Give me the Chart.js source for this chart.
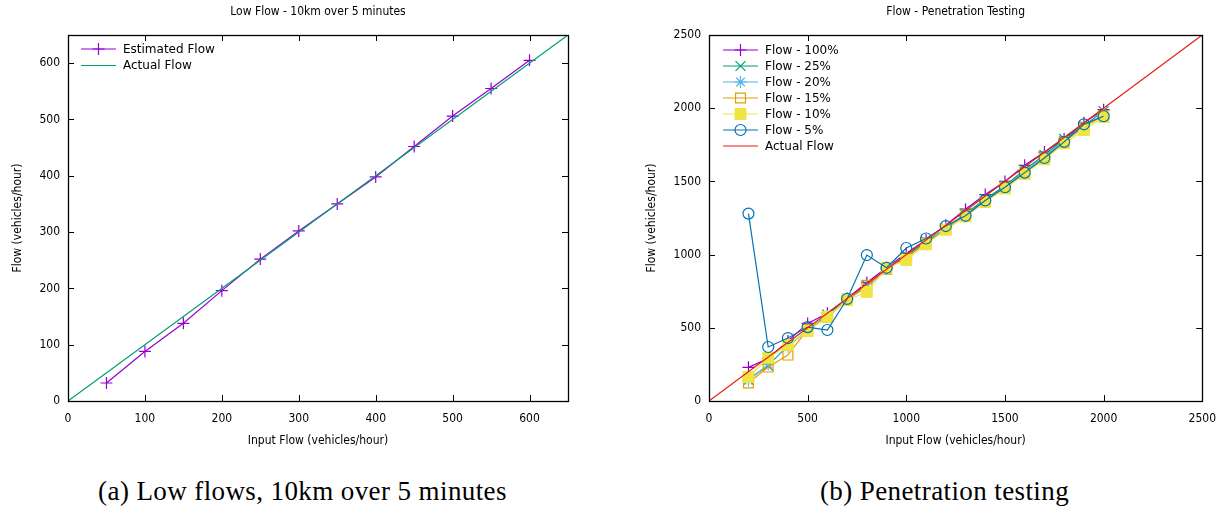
<!DOCTYPE html>
<html>
<head>
<meta charset="utf-8">
<script src="https://cdn.jsdelivr.net/npm/chart.js@4.4.0/dist/chart.umd.min.js"></script>
<style>
  body { margin: 0; background: #fff; width: 1222px; height: 512px; overflow: hidden; position: relative; }
  .box { position: absolute; top: 0; width: 611px; height: 460px; }
  .cap { position: absolute; top: 476px; width: 611px; text-align: center; letter-spacing: 0.4px;
         font-family: "Liberation Serif", "DejaVu Serif", serif; font-size: 27px; color: #000; }
</style>
</head>
<body>
<div class="box" style="left:0"><canvas id="lowFlow"></canvas></div>
<div class="box" style="left:611px;width:616px"><canvas id="penetration"></canvas></div>
<div class="cap" style="left:-3px">(a) Low flows, 10km over 5 minutes</div>
<div class="cap" style="left:639px">(b) Penetration testing</div>
<script>
// Chart (a): low flows
const lowInput = [50, 100, 150, 200, 250, 300, 350, 400, 450, 500, 550, 600];
const lowEstimated = [32, 88, 138, 196, 252, 302, 350, 398, 452, 506, 555, 605];
const lowActualInput = [0, 650];
const lowActual = [0, 650];

// Chart (b): penetration testing
const penInput = [200, 300, 400, 500, 600, 700, 800, 900, 1000, 1100, 1200, 1300, 1400, 1500, 1600, 1700, 1800, 1900, 2000];
const flow100 = [230, 290, 410, 530, 600, 700, 810, 910, 1010, 1100, 1200, 1310, 1410, 1500, 1610, 1700, 1790, 1900, 1990];
const flow25 = [150, 240, 380, 480, 590, 700, 790, 900, 990, 1090, 1180, 1280, 1380, 1470, 1580, 1680, 1790, 1880, 1980];
const flow20 = [140, 250, 370, 490, 580, 690, 780, 900, 980, 1080, 1180, 1270, 1370, 1460, 1570, 1670, 1780, 1870, 1960];
const flow15 = [123, 232, 314, 490, 570, 690, 790, 900, 980, 1080, 1170, 1270, 1360, 1460, 1560, 1660, 1770, 1870, 1950];
const flow10 = [164, 294, 383, 478, 574, 690, 745, 910, 963, 1070, 1170, 1260, 1360, 1450, 1550, 1650, 1760, 1850, 1940];
const flow5 = [1280, 369, 430, 505, 485, 697, 997, 910, 1045, 1110, 1195, 1265, 1370, 1460, 1560, 1660, 1770, 1890, 1945];
const penActualInput = [0, 2500];
const penActual = [0, 2500];

const tickFont = { family: "'DejaVu Sans Condensed', 'DejaVu Sans', sans-serif", size: 12 };
const keyFont = "12px 'DejaVu Sans', sans-serif";

function pts(xs, ys) {
  return xs.map((v, i) => ({ x: v, y: ys[i] }));
}

// gnuplot style frame with inward ticks on all four sides
const frame = {
  id: "frame",
  afterDatasetsDraw(chart) {
    const { ctx, chartArea: a, scales: { x, y } } = chart;
    ctx.save();
    ctx.strokeStyle = "#000";
    ctx.lineWidth = 1;
    ctx.beginPath();
    x.ticks.forEach((t) => {
      const px = Math.round(x.getPixelForValue(t.value)) + 0.5;
      ctx.moveTo(px, a.bottom); ctx.lineTo(px, a.bottom - 6);
      ctx.moveTo(px, a.top); ctx.lineTo(px, a.top + 6);
    });
    y.ticks.forEach((t) => {
      const py = Math.round(y.getPixelForValue(t.value)) + 0.5;
      ctx.moveTo(a.left, py); ctx.lineTo(a.left + 6, py);
      ctx.moveTo(a.right, py); ctx.lineTo(a.right - 6, py);
    });
    ctx.stroke();
    ctx.lineWidth = 1.3;
    ctx.strokeRect(Math.round(a.left) + 0.5, Math.round(a.top) + 0.5,
      Math.round(a.right - a.left), Math.round(a.bottom - a.top));
    ctx.restore();
  },
};

// key drawn inside the plot, top left
const keyBox = {
  id: "keyBox",
  afterDraw(chart, args, opts) {
    const { ctx, chartArea: a } = chart;
    ctx.save();
    ctx.font = keyFont;
    ctx.textBaseline = "middle";
    chart.data.datasets.forEach((ds, i) => {
      const y = a.top + opts.top + i * opts.row;
      const x0 = a.left + opts.left;
      ctx.strokeStyle = ds.borderColor;
      ctx.lineWidth = ds.borderWidth;
      ctx.beginPath();
      ctx.moveTo(x0, y); ctx.lineTo(x0 + 35, y);
      ctx.stroke();
      if (ds.pointRadius > 0) {
        ctx.fillStyle = ds.pointBackgroundColor;
        ctx.strokeStyle = ds.pointBorderColor;
        Chart.helpers.drawPoint(ctx, {
          pointStyle: ds.pointStyle, radius: ds.pointRadius,
          borderWidth: ds.pointBorderWidth, rotation: 0,
        }, x0 + 17.5, y);
      }
      ctx.fillStyle = "#000";
      ctx.fillText(ds.label, x0 + 42, y + 0.5);
    });
    ctx.restore();
  },
};

function series(label, xs, ys, color, style, radius, fill, order) {
  return {
    label: label,
    data: pts(xs, ys),
    borderColor: color,
    borderWidth: 1.2,
    pointStyle: style || false,
    pointRadius: radius,
    pointBorderColor: color,
    pointBackgroundColor: fill,
    pointBorderWidth: 1.2,
    showLine: true,
    order: order,
  };
}

function plain(value) {
  return String(value);
}

function makeChart(id, title, max, step, yWidth, yTitlePad, padRight, key, datasets) {
  return new Chart(document.getElementById(id), {
    type: "scatter",
    data: { datasets: datasets },
    plugins: [frame, keyBox],
    options: {
      responsive: true,
      maintainAspectRatio: false,
      animation: false,
      layout: { padding: { left: 0, right: padRight, top: 0, bottom: 0 } },
      plugins: {
        legend: { display: false },
        tooltip: { enabled: false },
        title: {
          display: true, text: title, color: "#000", fullSize: false,
          font: { family: tickFont.family, size: 12, weight: "normal" },
          padding: { top: 5, bottom: 15.6 },
        },
        keyBox: key,
      },
      scales: {
        x: {
          type: "linear", min: 0, max: max,
          grid: { display: false, drawTicks: false },
          border: { display: false },
          ticks: { stepSize: step, includeBounds: false, color: "#000", font: tickFont, padding: 11, maxRotation: 0, callback: plain },
          title: { display: true, text: "Input Flow (vehicles/hour)", color: "#000", font: tickFont, padding: { top: 0, bottom: 11.8 } },
          afterFit(scale) { scale.height = 59; },
        },
        y: {
          type: "linear", min: 0, max: max,
          grid: { display: false, drawTicks: false },
          border: { display: false },
          ticks: { stepSize: step, includeBounds: false, color: "#000", font: tickFont, padding: 8, callback: plain },
          title: { display: true, text: "Flow (vehicles/hour)", color: "#000", font: tickFont, padding: { top: yTitlePad, bottom: 0 } },
          afterFit(scale) { scale.width = yWidth; },
        },
      },
    },
  });
}

makeChart("lowFlow", "Low Flow - 10km over 5 minutes", 650, 100, 68, 10.8, 43,
  { left: 13, top: 14, row: 16.5 },
  [
    series("Estimated Flow", lowInput, lowEstimated, "#9400d3", "cross", 6, "#9400d3", 2),
    series("Actual Flow", lowActualInput, lowActual, "#009e73", false, 0, "#009e73", 1),
  ]);

makeChart("penetration", "Flow - Penetration Testing", 2500, 500, 98, 33.8, 14,
  { left: 14, top: 15, row: 16 },
  [
    series("Flow - 100%", penInput, flow100, "#9400d3", "cross", 6, "#9400d3", 7),
    series("Flow - 25%", penInput, flow25, "#009e73", "crossRot", 7, "#009e73", 6),
    series("Flow - 20%", penInput, flow20, "#56b4e9", "star", 6, "#56b4e9", 5),
    series("Flow - 15%", penInput, flow15, "#e69f00", "rect", 7, "rgba(0,0,0,0)", 4),
    series("Flow - 10%", penInput, flow10, "#f0e442", "rect", 7.5, "#f0e442", 3),
    series("Flow - 5%", penInput, flow5, "#0072b2", "circle", 5.5, "rgba(0,0,0,0)", 2),
    series("Actual Flow", penActualInput, penActual, "#e51e10", false, 0, "#e51e10", 1),
  ]);
</script>
</body>
</html>
